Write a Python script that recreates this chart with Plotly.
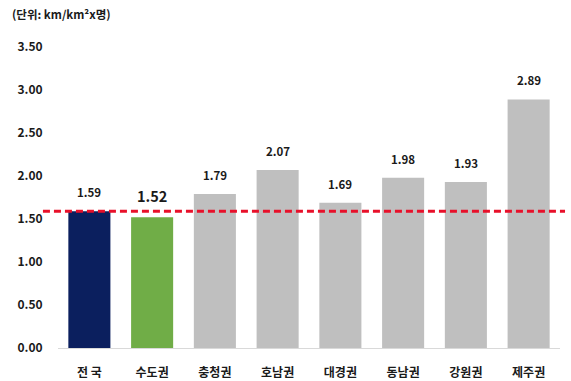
import plotly.graph_objects as go

categories = ["전 국", "수도권", "충청권", "호남권", "대경권", "동남권", "강원권", "제주권"]
values = [1.59, 1.52, 1.79, 2.07, 1.69, 1.98, 1.93, 2.89]
national_avg = 1.59
tick_vals = [0, 0.5, 1.0, 1.5, 2.0, 2.5, 3.0, 3.5]
tick_text = ["0.00", "0.50", "1.00", "1.50", "2.00", "2.50", "3.00", "3.50"]

colors = ["#0b1f5e", "#70ad47"] + ["#bfbfbf"] * 6
label_sizes = [11.5, 14.5, 11.5, 11.5, 11.5, 11.5, 11.5, 11.5]

FONT = "Noto Sans CJK KR"
TXT = "#1a1a1a"

fig = go.Figure()
fig.add_trace(go.Bar(
    x=categories, y=values, marker=dict(color=colors, line=dict(width=0)),
    showlegend=False, hoverinfo="skip",
))
fig.add_shape(type="line", xref="paper", x0=-0.03, x1=1.01, yref="y", y0=national_avg, y1=national_avg,
              line=dict(color="#e8102a", width=3, dash="7px,4px"))

annotations = []
for c, v, s in zip(categories, values, label_sizes):
    annotations.append(dict(text=f"<b>{v:.2f}</b>", x=c, y=v, xref="x", yref="y",
                            xanchor="center", yanchor="bottom", yshift=9, showarrow=False,
                            font=dict(family=FONT, size=s, color=TXT)))

fig.update_layout(
    width=571, height=381,
    margin=dict(l=58, r=11, t=47, b=33, autoexpand=False),
    plot_bgcolor="white", paper_bgcolor="white",
    bargap=0.33,
    font=dict(family=FONT, color=TXT),
    title=dict(text="<b>(단위: km/km²x명)</b>", xref="container", yref="container",
               x=12 / 571, y=1 - 15 / 381, xanchor="left", yanchor="middle",
               font=dict(family=FONT, size=11.5, color=TXT)),
    xaxis=dict(showline=True, linecolor="#d9d9d9", linewidth=1, ticks="outside", ticklen=14,
               tickcolor="rgba(0,0,0,0)", tickvals=categories, automargin=False,
               ticktext=[f"<b>{c}</b>" for c in categories],
               tickfont=dict(family=FONT, size=12, color=TXT)),
    yaxis=dict(range=[0, 3.5], tickvals=tick_vals, ticktext=[f"<b>{t}</b>" for t in tick_text],
               showgrid=False, zeroline=False, showline=False, ticks="outside", ticklen=12,
               tickcolor="rgba(0,0,0,0)", automargin=False,
               tickfont=dict(family=FONT, size=12, color=TXT)),
    annotations=annotations,
)
fig.write_html("out.html", config={"displayModeBar": False},
               post_script="document.body.style.margin='0';document.body.style.overflow='hidden';")
